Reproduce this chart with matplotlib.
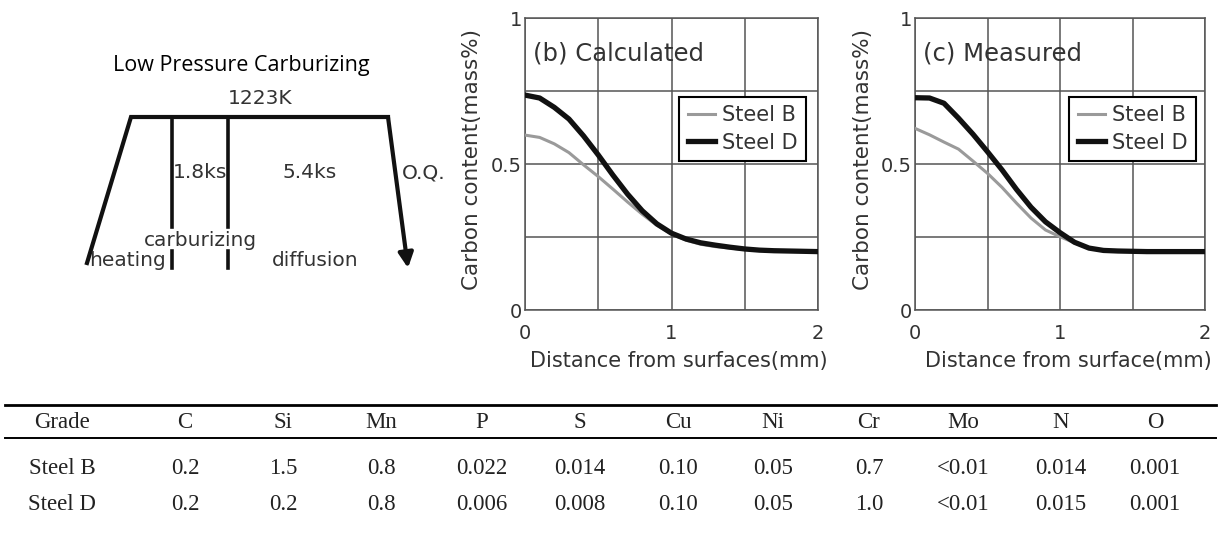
import matplotlib
matplotlib.use("Agg")
import matplotlib.pyplot as plt
import numpy as np

# ---------------- data ----------------
dist_calc = [0, 0.1, 0.2, 0.3, 0.4, 0.5, 0.6, 0.7, 0.8, 0.9, 1.0, 1.1, 1.2, 1.3, 1.4, 1.5, 1.6, 1.7, 1.8, 1.9, 2.0]
calc_b = [0.599, 0.591, 0.569, 0.539, 0.497, 0.457, 0.414, 0.370, 0.328, 0.290, 0.260, 0.239, 0.225, 0.217,
          0.212, 0.207, 0.205, 0.203, 0.202, 0.201, 0.200]
calc_d = [0.736, 0.726, 0.694, 0.654, 0.596, 0.531, 0.462, 0.397, 0.340, 0.295, 0.263, 0.243, 0.230, 0.222,
          0.215, 0.209, 0.205, 0.203, 0.202, 0.201, 0.200]

dist_meas = [0, 0.1, 0.2, 0.3, 0.4, 0.5, 0.6, 0.7, 0.8, 0.9, 1.0, 1.1, 1.2, 1.3, 1.4, 1.5, 1.6, 1.7, 1.8, 1.9, 2.0]
meas_b = [0.622, 0.600, 0.575, 0.551, 0.510, 0.468, 0.420, 0.366, 0.315, 0.274, 0.251, 0.230, 0.211, 0.203,
          0.202, 0.201, 0.200, 0.200, 0.200, 0.200, 0.200]
meas_d = [0.727, 0.726, 0.708, 0.657, 0.602, 0.542, 0.480, 0.413, 0.352, 0.302, 0.265, 0.232, 0.212, 0.204,
          0.202, 0.201, 0.200, 0.200, 0.200, 0.200, 0.200]

series_labels = ["Steel B", "Steel D"]
x_ticks = [0, 1, 2]
y_ticks = [0, 0.5, 1]
x_tick_labels = ["0", "1", "2"]
y_tick_labels = ["0", "0.5", "1"]

table_header = ["Grade", "C", "Si", "Mn", "P", "S", "Cu", "Ni", "Cr", "Mo", "N", "O"]
table_steel_b = ["Steel B", "0.2", "1.5", "0.8", "0.022", "0.014", "0.10", "0.05", "0.7", "<0.01", "0.014", "0.001"]
table_steel_d = ["Steel D", "0.2", "0.2", "0.8", "0.006", "0.008", "0.10", "0.05", "1.0", "<0.01", "0.015", "0.001"]

# ---------------- figure ----------------
W, H = 1221, 538
fig = plt.figure(figsize=(W / 100, H / 100), dpi=100)
fig.patch.set_facecolor("white")

# overlay in pixel coordinates for schematic + table
ov = fig.add_axes([0, 0, 1, 1])
ov.set_xlim(0, W)
ov.set_ylim(H, 0)
ov.axis("off")

# --- process schematic ---
k = "#111111"
ov.text(241, 65, "Low Pressure Carburizing", fontsize=15.5, family="Open Sans",
        ha="center", va="center", color="black")
ov.plot([87, 131, 388], [263, 117, 117], color=k, lw=3.0, solid_joinstyle="miter")
ov.annotate("", xy=(408, 268), xytext=(388, 117),
            arrowprops=dict(arrowstyle="-|>", lw=3.0, color=k, mutation_scale=22,
                            shrinkA=0, shrinkB=0))
for xv in (172, 228):
    ov.plot([xv, xv], [117, 227], color=k, lw=2.6)
    ov.plot([xv, xv], [251, 268], color=k, lw=2.6)
tc = "#333333"
fs_d = 14.5
ov.text(260, 98, "1223K", fontsize=fs_d, ha="center", va="center", color=tc)
ov.text(200, 173, "1.8ks", fontsize=fs_d, ha="center", va="center", color=tc)
ov.text(310, 173, "5.4ks", fontsize=fs_d, ha="center", va="center", color=tc)
ov.text(402, 173, "O.Q.", fontsize=fs_d, ha="left", va="center", color=tc)
ov.text(200, 240, "carburizing", fontsize=fs_d, ha="center", va="center", color=tc)
ov.text(89, 260, "heating", fontsize=fs_d, ha="left", va="center", color=tc)
ov.text(315, 260, "diffusion", fontsize=fs_d, ha="center", va="center", color=tc)

# --- table ---
col_x = [62, 185, 283, 381, 482, 580, 678, 773, 869, 963, 1061, 1155]
ov.plot([5, 1216], [405, 405], color="black", lw=2.0)
ov.plot([5, 1216], [438, 438], color="black", lw=1.4)
tfs = 16.5
for cx, h, b, d in zip(col_x, table_header, table_steel_b, table_steel_d):
    ov.text(cx, 423, h, fontsize=tfs, family="Liberation Serif", ha="center", va="center", color="#222222")
    ov.text(cx, 469, b, fontsize=tfs, family="Liberation Serif", ha="center", va="center", color="#222222")
    ov.text(cx, 504, d, fontsize=tfs, family="Liberation Serif", ha="center", va="center", color="#222222")

# --- charts ---
def make_panel(left, width, x, yb, yd, title, xlabel, leg_right, xlabel_center):
    bottom, top = 310, 18
    ax = fig.add_axes([left / W, 1 - bottom / H, width / W, (bottom - top) / H])
    ax.set_xlim(0, 2)
    ax.set_ylim(0, 1)
    ax.set_xticks([0.5, 1.5], minor=True)
    ax.set_yticks([0.25, 0.75], minor=True)
    ax.set_xticks(x_ticks)
    ax.set_xticklabels(x_tick_labels)
    ax.set_yticks(y_ticks)
    ax.set_yticklabels(y_tick_labels)
    ax.grid(True, which="both", color="#555555", lw=1.1)
    ax.tick_params(which="both", length=0, labelsize=14, labelcolor="#333333")
    ax.tick_params(axis="x", pad=10)
    ax.tick_params(axis="y", pad=2)
    for s in ax.spines.values():
        s.set_color("#555555")
        s.set_linewidth(1.1)
    ax.plot(x, yb, color="#9a9a9a", lw=2.2, label=series_labels[0], zorder=3,
            solid_joinstyle="round")
    ax.plot(x, yd, color="#111111", lw=3.8, label=series_labels[1], zorder=4,
            solid_joinstyle="round")
    ax.text(0.027, 0.88, title, transform=ax.transAxes, fontsize=17.5, color="#333333",
            ha="left", va="center")
    ax.set_xlabel(xlabel, fontsize=15, color="#333333")
    ax.xaxis.set_label_coords((xlabel_center - left) / width, -0.175)
    ax.xaxis.label.set_va("center")
    ax.set_ylabel("Carbon content(mass%)", fontsize=15.5, color="#333333")
    ax.yaxis.set_label_coords(-0.181, 0.514)
    ax.yaxis.label.set_va("center")
    leg = ax.legend(loc="upper right", bbox_to_anchor=(leg_right, 0.729), borderaxespad=0,
                    fontsize=15, frameon=True, fancybox=False, framealpha=1,
                    edgecolor="black", handlelength=1.3, handletextpad=0.35,
                    labelspacing=0.35, borderpad=0.4)
    leg.get_frame().set_linewidth(1.5)
    for t in leg.get_texts():
        t.set_color("#333333")
    return ax

make_panel(525, 293, dist_calc, calc_b, calc_d, "(b) Calculated",
           "Distance from surfaces(mm)", (806 - 525) / 293, 679)
make_panel(915, 290, dist_meas, meas_b, meas_d, "(c) Measured",
           "Distance from surface(mm)", (1196 - 915) / 290, 1068)

fig.savefig("out.png", dpi=100, facecolor="white")
